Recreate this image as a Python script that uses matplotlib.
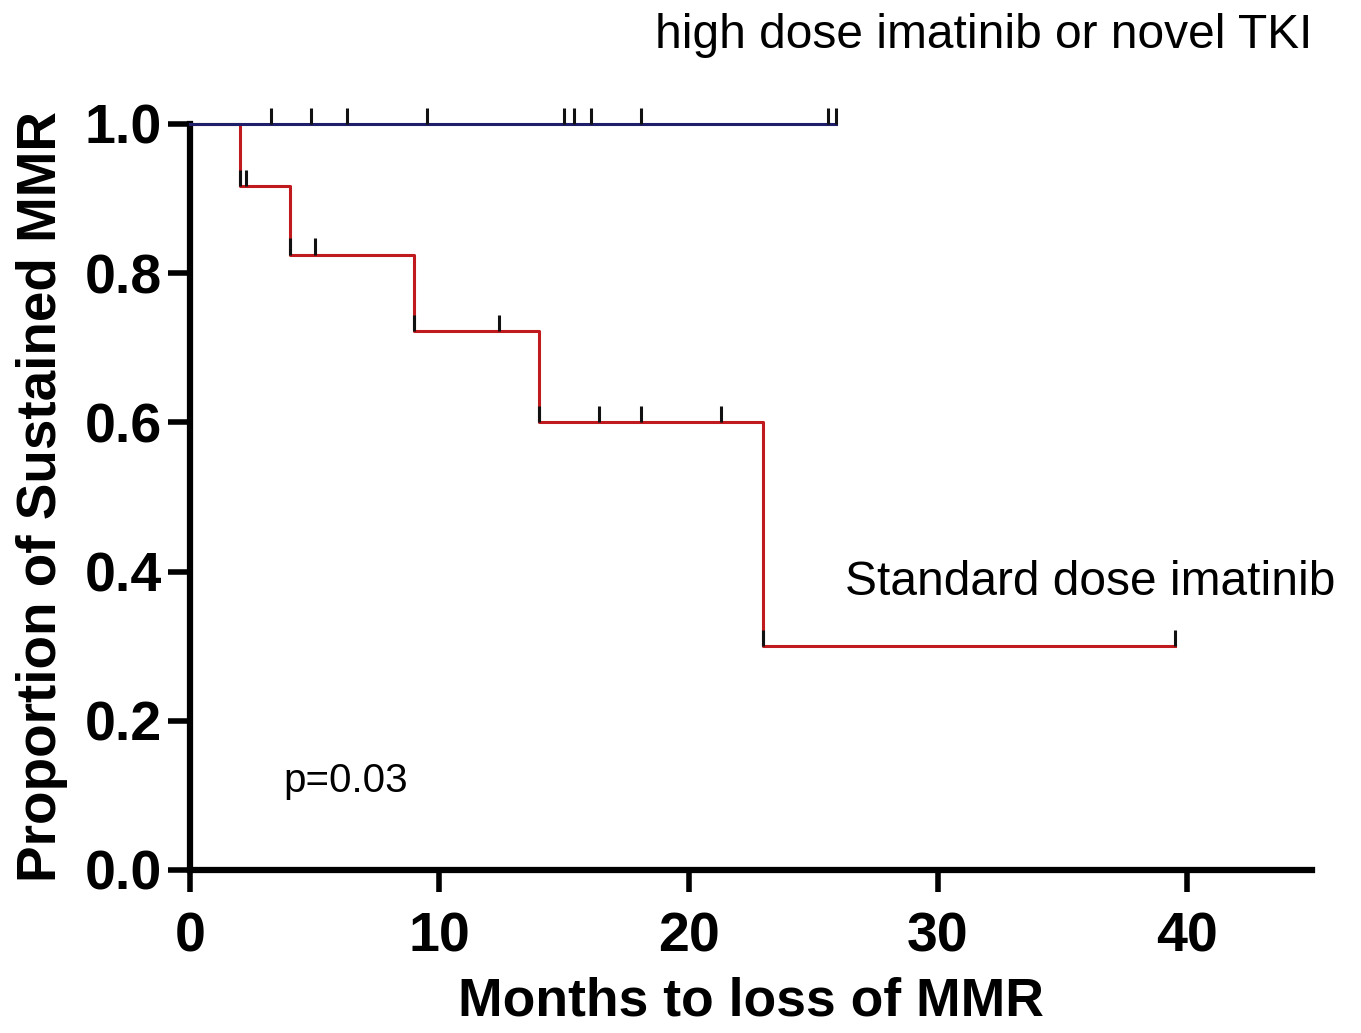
import matplotlib
matplotlib.use("Agg")
import matplotlib.pyplot as plt

# ---- data ----
high_censor = [3.25, 4.85, 6.3, 9.5, 15.0, 15.4, 16.1, 18.1, 25.6, 25.9]
high_end = 25.9

std_times = [0, 2, 4, 9, 14, 23]
std_surv = [1.0, 0.917, 0.825, 0.722, 0.600, 0.300]
std_end = 39.5
std_censor_t = [2.0, 2.25, 4.0, 5.0, 9.0, 12.4, 14.0, 16.4, 18.1, 21.3, 23.0, 39.5]

x_ticks = [0, 10, 20, 30, 40]
y_ticks = [0.0, 0.2, 0.4, 0.6, 0.8, 1.0]
y_tick_labels = ["0.0", "0.2", "0.4", "0.6", "0.8", "1.0"]

plt.rcParams['font.family'] = ['Liberation Sans', 'DejaVu Sans']

fig = plt.figure(figsize=(13.61, 10.33), dpi=100)
ax = fig.add_axes([190/1361, 1-870/1033, (1312-190)/1361, (870-124)/1033])

BLUE = '#1e1e6a'
RED = '#c01a1f'

def surv_at(t):
    s = std_surv[0]
    for tt, ss in zip(std_times, std_surv):
        if t >= tt:
            s = ss
    return s

# standard dose curve
xs = list(std_times) + [std_end]
ys = list(std_surv) + [std_surv[-1]]
ax.step(xs, ys, where='post', color=RED, lw=2.2, clip_on=False, zorder=3)
tick_h = 0.022
std_cy = [surv_at(t) for t in std_censor_t]
ax.vlines(std_censor_t, std_cy, [c + tick_h for c in std_cy], colors='#111111',
          lw=2.2, clip_on=False, zorder=4)

# high dose curve
ax.plot([0, high_end], [1.0, 1.0], color=BLUE, lw=2.2, clip_on=False, zorder=5)
ax.vlines(high_censor, 1.0, 1.0 + tick_h, colors='#111111', lw=2.2,
          clip_on=False, zorder=6)

ax.set_xlim(0, 45)
ax.set_ylim(0, 1.0)
for s in ['top', 'right']:
    ax.spines[s].set_visible(False)
for s in ['left', 'bottom']:
    ax.spines[s].set_linewidth(4.5)
    ax.spines[s].set_color('black')

ax.set_xticks(x_ticks)
ax.set_xticklabels([str(v) for v in x_ticks], fontsize=40, fontweight='bold')
ax.set_yticks(y_ticks)
ax.set_yticklabels(y_tick_labels, fontsize=40, fontweight='bold')
ax.tick_params(axis='both', length=16, width=4, direction='out')
ax.tick_params(axis='x', pad=14)
ax.tick_params(axis='y', pad=4)

ax.set_xlabel("Months to loss of MMR", fontsize=38.5, fontweight='bold', labelpad=9)
ax.set_ylabel("Proportion of Sustained MMR", fontsize=39.5, fontweight='bold', labelpad=12)

ax.text(18.65, 1.102, "high dose imatinib or novel TKI", fontsize=34.5,
        va='baseline', ha='left', clip_on=False)
ax.text(26.27, 0.369, "Standard dose imatinib", fontsize=34.5,
        va='baseline', ha='left', clip_on=False)
ax.text(3.73, 0.105, "p=0.03", fontsize=29, va='baseline', ha='left')

fig.savefig("out.png", dpi=100)
